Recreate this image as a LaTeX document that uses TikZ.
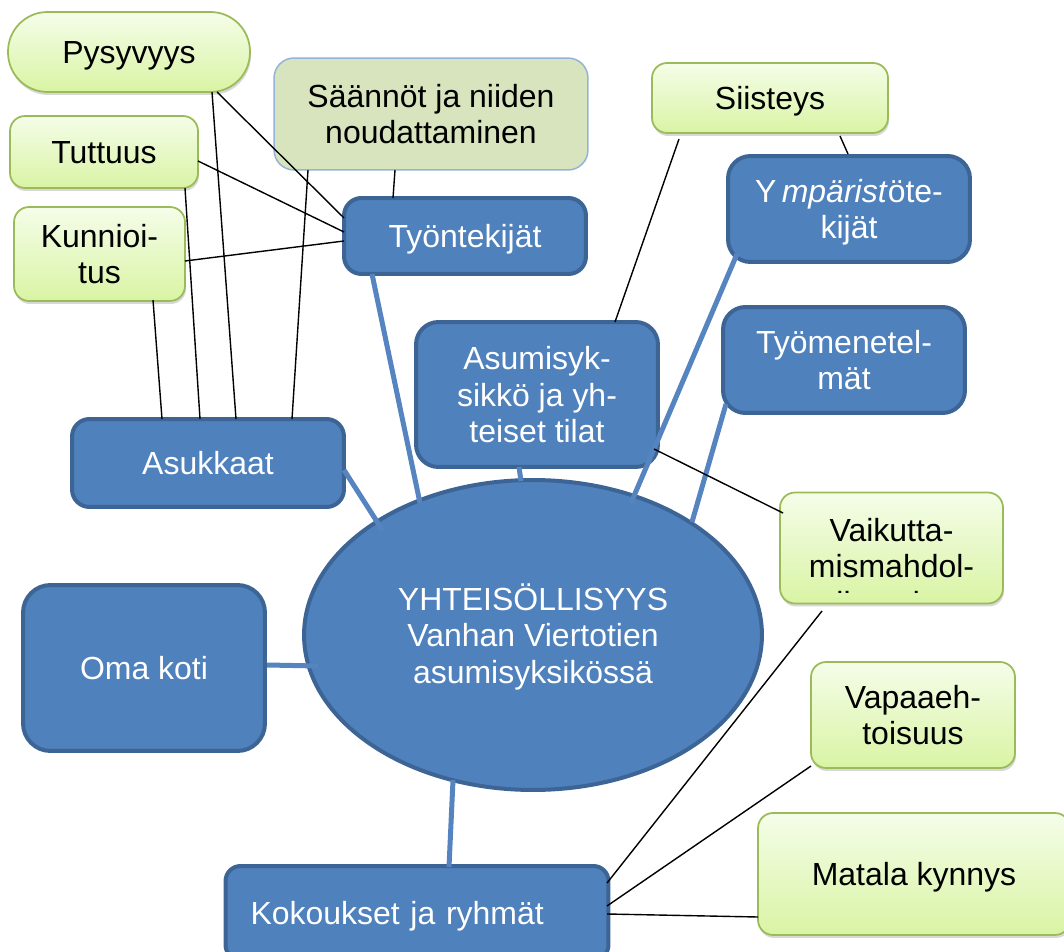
\documentclass[tikz,border=0pt]{standalone}
\usepackage{fontspec}
\setmainfont{Liberation Sans}
\usetikzlibrary{calc,shadows,shapes.geometric}
\definecolor{bfill}{HTML}{4F81BD}
\definecolor{bline}{HTML}{3C6494}
\definecolor{gtop}{HTML}{F5FDE9}
\definecolor{gbot}{HTML}{D9F4A4}
\definecolor{gline}{HTML}{9BBB59}
\definecolor{sfill}{HTML}{D7E4BD}
\definecolor{sline}{HTML}{95B3D7}
\definecolor{conn}{HTML}{5584C0}
\newcommand\diagfont{\fontsize{18.2pt}{20.8pt}\selectfont}
\newcommand\fl[1]{\raisebox{0pt}[0.73em][0pt]{#1}}
\tikzset{
  bluebox/.style={draw=bline, line width=0.08cm, fill=bfill, text=white,
    rounded corners=0.4cm, inner sep=0pt, align=center, font=\diagfont},
  greenbox/.style={draw=gline, line width=0.035cm, top color=gtop, bottom color=gbot,
    rounded corners=0.3cm, inner sep=0pt, align=center, font=\diagfont,
    drop shadow={shadow xshift=0.02cm, shadow yshift=-0.06cm, opacity=0.25, fill=black!60}},
  rulebox/.style={draw=sline, line width=0.03cm, fill=sfill,
    rounded corners=0.4cm, inner sep=0pt, align=center, font=\diagfont},
  thin/.style={draw=black, line width=0.028cm},
  thick/.style={draw=conn, line width=0.1cm}
}
\begin{document}
\begin{tikzpicture}[x=0.02cm, y=-0.02cm]
\fill[white] (0,0) rectangle (1064,952);
\useasboundingbox (0,0) rectangle (1064,952);

% green boxes
\node[greenbox, rounded corners=0.79cm, minimum width=4.84cm, minimum height=1.6cm] (pys) at (129,52) {\fl{Pysyvyys}};
\node[rulebox, minimum width=6.28cm, minimum height=2.24cm] (saan) at (431,114) {\fl{Säännöt ja niiden}\\\fl{noudattaminen}};
\node[greenbox, minimum width=3.76cm, minimum height=1.44cm] (tut) at (104,152) {\fl{Tuttuus}};
\node[greenbox, minimum width=3.42cm, minimum height=1.88cm] (kun) at (99.5,254) {\fl{Kunnioi-}\\\fl{tus}};
\node[greenbox, minimum width=4.72cm, minimum height=1.4cm] (sii) at (770,98) {\fl{Siisteys}};
\node[greenbox, minimum width=4.08cm, minimum height=2.12cm] (vap) at (913,715) {\fl{Vapaaeh-}\\\fl{toisuus}};
\node[greenbox, minimum width=6.24cm, minimum height=2.44cm] (mat) at (914,874) {\fl{Matala kynnys}};
\node[greenbox, minimum width=4.46cm, minimum height=2.22cm] (vai) at (891.5,548) {};
\begin{scope}
  \clip[rounded corners=0.3cm] ($(vai.south west)+(4,-12)$) rectangle ($(vai.north east)+(-4,4)$);
  \node[align=center, font=\diagfont, inner sep=0pt] (vaitext) at ($(vai)+(0,18)$) {\fl{Vaikutta-}\\mismahdol-\\\fl{lisuudet}};
\end{scope}

% blue boxes
\node[bluebox, minimum width=4.84cm, minimum height=1.52cm, rounded corners=0.35cm] (tyo) at (465,236) {\fl{Työntekijät}};
\node[bluebox, minimum width=4.84cm, minimum height=2.12cm, rounded corners=0.45cm] (ymp) at (849,209) {\fl{Y\,\textit{mpärist}öte-}\\\fl{kijät}};
\node[bluebox, minimum width=4.84cm, minimum height=2.12cm, rounded corners=0.45cm] (tmen) at (844,360) {\fl{Työmenetel-}\\\fl{mät}};
\node[bluebox, minimum width=4.84cm, minimum height=2.9cm, rounded corners=0.45cm] (asu) at (537,394.5) {\fl{Asumisyk-}\\sikkö ja yh-\\\fl{teiset tilat}};
\node[bluebox, minimum width=5.44cm, minimum height=1.76cm, rounded corners=0.35cm] (ask) at (208,463) {\fl{Asukkaat}};
\node[bluebox, minimum width=4.84cm, minimum height=3.32cm, rounded corners=0.55cm] (oma) at (144,668) {\fl{Oma koti}};
\node[bluebox, minimum width=7.66cm, minimum height=1.88cm, rounded corners=0.3cm,
      text width=6.66cm, inner xsep=0.5cm, align=left] (kok) at (417,913) {\fl{Kokoukset ja ryhmät}};
\node[bluebox, ellipse, minimum width=9.16cm, minimum height=6.2cm] (ell) at (533,635)
  {\fl{YHTEISÖLLISYYS}\\Vanhan Viertotien\\\fl{asumisyksikössä}};

% thick blue connectors
\draw[thick] ($(ask)+(136,7)$) -- ($(ell)+(-150,-104)$);
\draw[thick] ($(tyo)+(-93,38)$) -- ($(ell)+(-113,-132)$);
\draw[thick] ($(asu)+(-18,72.5)$) -- ($(ell)+(-12,-154)$);
\draw[thick] ($(ymp)+(-112,45)$) -- ($(ell)+(98,-132)$);
\draw[thick] ($(tmen)+(-118,44)$) -- ($(ell)+(159,-113)$);
\draw[thick] ($(oma)+(123,-3)$) -- ($(ell)+(-215,31)$);
\draw[thick] ($(ell)+(-80,145)$) -- ($(kok)+(32,-46)$);

% thin black connectors
\draw[thin] ($(pys)+(88,40)$) -- ($(tyo)+(-121,-18)$);
\draw[thin] ($(pys)+(83,40)$) -- ($(ask)+(28,-44)$);
\draw[thin] ($(tut)+(94,9)$) -- ($(tyo)+(-121,-4)$);
\draw[thin] ($(tut)+(81,36)$) -- ($(ask)+(-8,-44)$);
\draw[thin] ($(kun)+(85.5,7)$) -- ($(tyo)+(-121,5)$);
\draw[thin] ($(kun)+(53.5,46)$) -- ($(ask)+(-46,-44)$);
\draw[thin] ($(saan)+(-123,56)$) -- ($(ask)+(84,-44)$);
\draw[thin] ($(saan)+(-36,56)$) -- ($(tyo)+(-72,-38)$);
\draw[thin] ($(sii)+(-91,41)$) -- ($(asu)+(78,-72.5)$);
\draw[thin] ($(sii)+(70,38)$) -- ($(ymp)+(-1,-55)$);
\draw[thin] ($(asu)+(117,54.5)$) -- ($(vai)+(-108.5,-35)$);
\draw[thin] ($(vai)+(-69.5,63)$) -- ($(kok)+(190,-30)$);
\draw[thin] ($(vap)+(-102,51)$) -- ($(kok)+(190,-7)$);
\draw[thin] ($(mat)+(-156,43)$) -- ($(kok)+(190,1)$);
\end{tikzpicture}
\end{document}
